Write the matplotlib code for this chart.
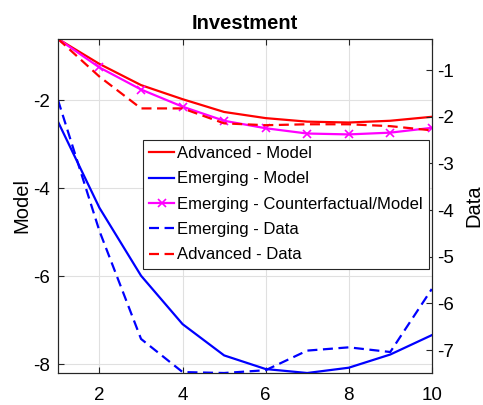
import matplotlib
matplotlib.use("Agg")
import matplotlib.pyplot as plt

plt.rcParams['font.family'] = ['Liberation Sans', 'DejaVu Sans']
plt.rcParams['axes.unicode_minus'] = False

x = [1, 2, 3, 4, 5, 6, 7, 8, 9, 10]
# Model (left axis)
adv_model = [-0.61, -1.18, -1.66, -1.98, -2.27, -2.41, -2.49, -2.51, -2.47, -2.38]
em_model = [-2.49, -4.45, -5.99, -7.09, -7.80, -8.11, -8.20, -8.08, -7.78, -7.34]
em_cf = [-0.61, -1.26, -1.76, -2.15, -2.47, -2.64, -2.76, -2.78, -2.74, -2.63]
# Data (right axis)
em_data = [-1.64, -4.45, -6.76, -7.47, -7.49, -7.43, -7.01, -6.94, -7.04, -5.69]
adv_data = [-0.33, -1.14, -1.82, -1.82, -2.14, -2.18, -2.16, -2.16, -2.20, -2.29]

xticks = [2, 4, 6, 8, 10]
left_ticks = [-8, -6, -4, -2]
right_ticks = [-7, -6, -5, -4, -3, -2, -1]

fig = plt.figure(figsize=(4.83, 4.05), dpi=100)
ax = fig.add_axes([0.120, 0.079, 0.774, 0.825])
ax2 = ax.twinx()

lw = 1.6
dash = (4.5, 2.5)
l1, = ax.plot(x, adv_model, color=(1, 0, 0), lw=lw, label='Advanced - Model')
l2, = ax.plot(x, em_model, color=(0, 0, 1), lw=lw, label='Emerging - Model')
l3, = ax.plot(x, em_cf, color=(1, 0, 1), lw=lw, marker='x', ms=6, mew=1.2,
              label='Emerging - Counterfactual/Model')
l4, = ax2.plot(x, em_data, color=(0, 0, 1), lw=lw, ls='--', dashes=dash,
               label='Emerging - Data')
l5, = ax2.plot(x, adv_data, color=(1, 0, 0), lw=lw, ls='--', dashes=dash,
               label='Advanced - Data')

ax.set_xlim(1, 10)
ax.set_ylim(-8.2, -0.61)
ax2.set_ylim(-7.49, -0.33)
ax.set_xticks(xticks)
ax.set_yticks(left_ticks)
ax2.set_yticks(right_ticks)

ax.grid(True, color=(0.88, 0.88, 0.88), lw=0.8)
ax.set_axisbelow(True)

spc = (0.15, 0.15, 0.15)
for a in (ax, ax2):
    for s in a.spines.values():
        s.set_color(spc)
        s.set_linewidth(0.8)
ax.tick_params(axis='both', direction='in', length=4, width=0.8, color=spc,
               labelsize=13.5, top=True)
ax.tick_params(axis='x', pad=10)
ax.tick_params(axis='y', pad=6)
ax2.tick_params(axis='y', direction='in', length=4, width=0.8, color=spc,
                labelsize=13.5, pad=4)

ax.set_ylabel('Model', fontsize=14.5, labelpad=1)
ax2.set_ylabel('Data', fontsize=14.5, labelpad=7)
ax.set_title('Investment', fontsize=14.5, fontweight='bold', pad=7)

leg = ax2.legend(handles=[l1, l2, l3, l4, l5], loc='upper left',
                 bbox_to_anchor=(0.227, 0.698), borderaxespad=0,
                 fontsize=12, frameon=True, fancybox=False, framealpha=1,
                 edgecolor=spc, handlelength=1.5, handletextpad=0.2,
                 labelspacing=0.62, borderpad=0.38)
leg.get_frame().set_linewidth(0.8)

fig.savefig('out.png', dpi=100)
